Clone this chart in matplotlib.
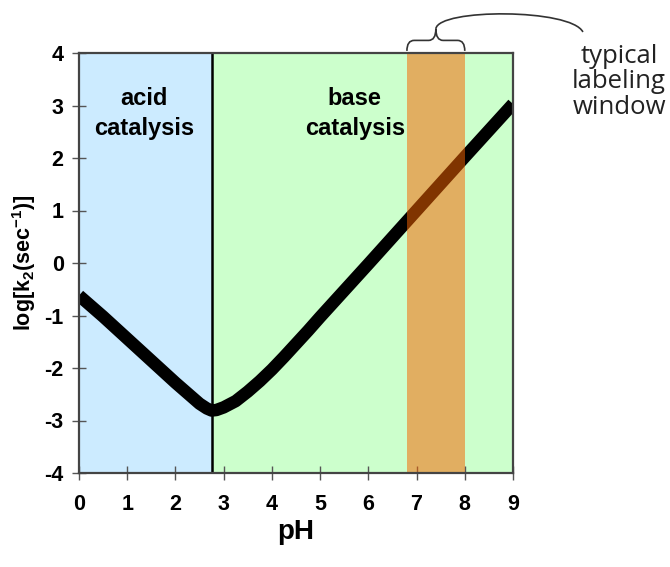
import matplotlib
matplotlib.use("Agg")
import matplotlib.pyplot as plt
from matplotlib.path import Path
from matplotlib.patches import PathPatch

# ---- data ----
ph = [0.0, 0.5, 1.0, 1.5, 2.0, 2.25, 2.5, 2.65, 2.75, 2.85, 3.0, 3.25, 3.5, 3.75,
      4.0, 4.25, 4.5, 4.75, 5.0, 6.0, 7.0, 8.0, 9.0]
logk = [-0.62, -1.02, -1.44, -1.86, -2.28, -2.48, -2.68, -2.77, -2.81, -2.80,
        -2.75, -2.63, -2.45, -2.25, -2.03, -1.79, -1.54, -1.29, -1.03, -0.02, 1.0, 2.02, 3.03]

acid_range = [0.0, 2.75]
base_range = [2.75, 9.0]
window_range = [6.8, 8.0]
xticks = [0, 1, 2, 3, 4, 5, 6, 7, 8, 9]
yticks = [-4, -3, -2, -1, 0, 1, 2, 3, 4]
note_lines = ["typical", "labeling", "window"]

W, H = 670, 567
fig = plt.figure(figsize=(W / 100, H / 100), dpi=100)
ax = fig.add_axes([79 / W, 1 - 473 / H, (513 - 79) / W, (473 - 53) / H])

bold = dict(family=["Liberation Sans", "DejaVu Sans"], weight="bold")

ax.axvspan(*acid_range, color="#CCEBFF", zorder=0, lw=0)
ax.axvspan(*base_range, color="#CCFFCC", zorder=0, lw=0)
ax.plot(ph, logk, color="black", lw=9, solid_capstyle="butt",
        solid_joinstyle="round", zorder=2)
ax.axvline(acid_range[1], color="black", lw=1.8, zorder=3)
ax.axvspan(*window_range, color="#F66400", alpha=0.52, lw=0, zorder=4)

ax.set_xlim(0, 9)
ax.set_ylim(-4, 4)
ax.set_xticks(xticks)
ax.set_yticks(yticks)
ax.set_xticklabels([str(v) for v in xticks], fontsize=15.5, **bold)
ax.set_yticklabels([str(v) for v in yticks], fontsize=15.5, **bold)
ax.tick_params(direction="inout", length=10, width=1, color="#555555")
ax.tick_params(axis="x", pad=10)
ax.tick_params(axis="y", pad=6)
for s in ax.spines.values():
    s.set_color("#444444")
    s.set_linewidth(1.6)
    s.set_zorder(5)

ax.set_xlabel("pH", fontsize=20, labelpad=3, **bold)
ax.set_ylabel(r"log[k$_\mathregular{2}$(sec$^\mathregular{-1}$)]", fontsize=15.5,
              labelpad=5, **bold)

ax.text(1.35, 3.14, "acid", ha="center", va="center", fontsize=17, **bold)
ax.text(1.35, 2.57, "catalysis", ha="center", va="center", fontsize=17, **bold)
ax.text(5.72, 3.14, "base", ha="center", va="center", fontsize=17, **bold)
ax.text(5.72, 2.57, "catalysis", ha="center", va="center", fontsize=17, **bold)

# curly brace over the labeling window
x0, x1 = window_range
xm = (x0 + x1) / 2
yb, yh, yt = 4.04, 4.24, 4.46
verts = [(x0, yb), (x0, yh), (x0 + 0.15, yh), (xm - 0.15, yh), (xm, yh), (xm, yt),
         (xm, yh), (xm + 0.15, yh), (x1 - 0.15, yh), (x1, yh), (x1, yb)]
codes = [Path.MOVETO, Path.CURVE3, Path.CURVE3, Path.LINETO, Path.CURVE3, Path.CURVE3,
         Path.CURVE3, Path.CURVE3, Path.LINETO, Path.CURVE3, Path.CURVE3]
ax.add_patch(PathPatch(Path(verts, codes), fill=False, lw=1.2, color="#333333",
                       clip_on=False, zorder=6))

# connector curve to the label
cverts = [(xm, yt), (xm + 0.05, 4.85), (10.2, 4.85), (10.45, 4.4)]
ccodes = [Path.MOVETO, Path.CURVE4, Path.CURVE4, Path.CURVE4]
ax.add_patch(PathPatch(Path(cverts, ccodes), fill=False, lw=1.2, color="#333333",
                       clip_on=False, zorder=6))

for i, line in enumerate(note_lines):
    ax.text(11.2, 3.93 - i * 0.48, line, ha="center", va="center",
            fontsize=18.5, family=["Open Sans", "DejaVu Sans"], color="#222222",
            clip_on=False)

fig.savefig("out.png", dpi=100)
